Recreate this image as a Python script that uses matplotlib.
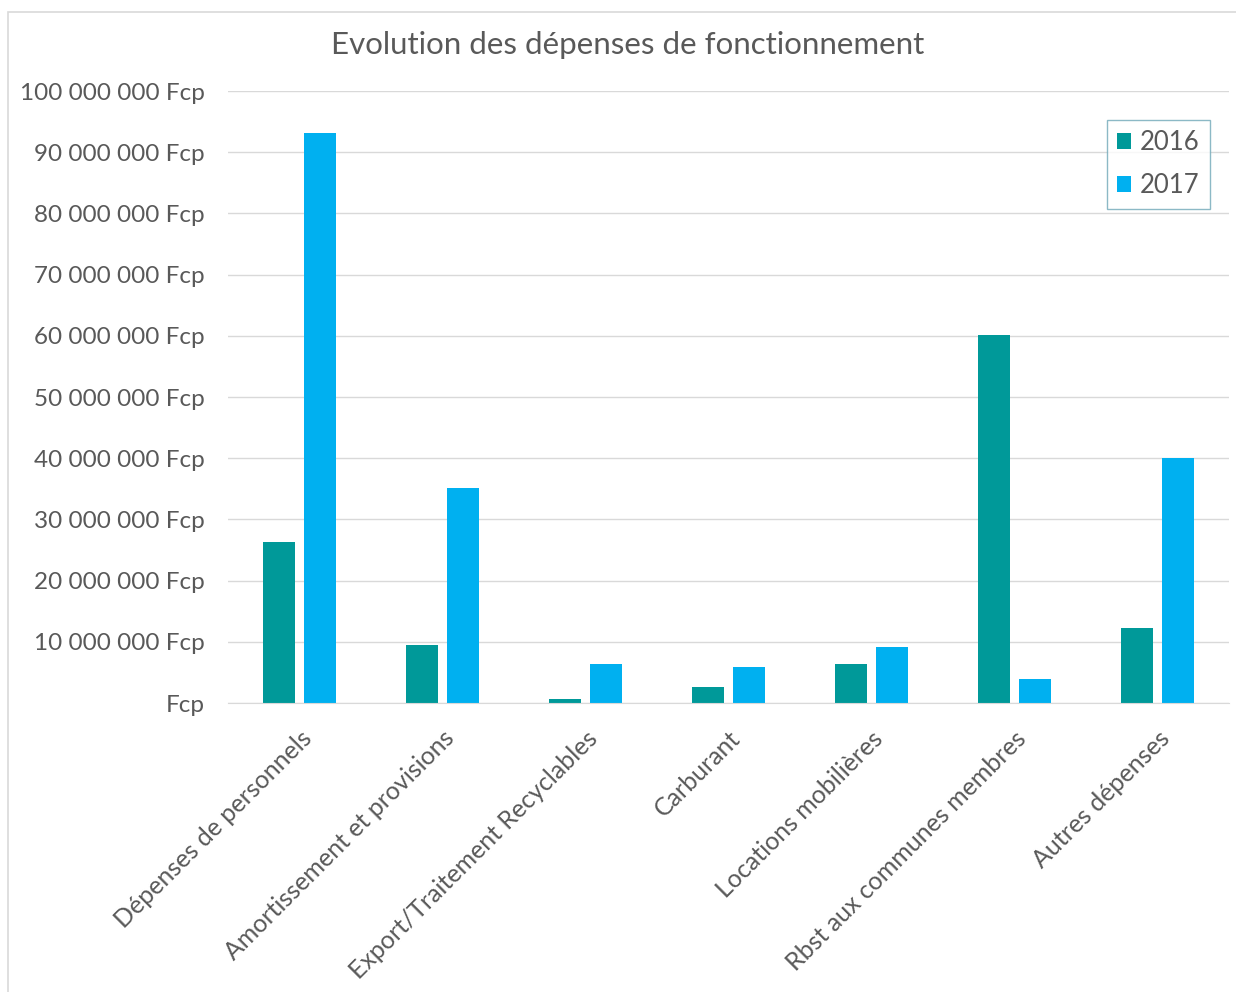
import numpy as np
import matplotlib.pyplot as plt
from matplotlib.patches import Rectangle

plt.rcParams['font.family'] = ['Lato', 'DejaVu Sans']

categories = ['Dépenses de personnels', 'Amortissement et provisions',
              'Export/Traitement Recyclables', 'Carburant',
              'Locations mobilières', 'Rbst aux communes membres',
              'Autres dépenses']
values_2016 = [26.3e6, 9.5e6, 0.65e6, 2.6e6, 6.3e6, 60.2e6, 12.2e6]
values_2017 = [93.2e6, 35.2e6, 6.4e6, 5.9e6, 9.2e6, 4.0e6, 40.0e6]
y_ticks = [0, 10e6, 20e6, 30e6, 40e6, 50e6, 60e6, 70e6, 80e6, 90e6, 100e6]
y_tick_labels = ['Fcp', '10 000 000 Fcp', '20 000 000 Fcp', '30 000 000 Fcp',
                 '40 000 000 Fcp', '50 000 000 Fcp', '60 000 000 Fcp',
                 '70 000 000 Fcp', '80 000 000 Fcp', '90 000 000 Fcp',
                 '100 000 000 Fcp']

text_color = '#595959'
grid_color = '#D9D9D9'

fig = plt.figure(figsize=(12.36, 9.92), dpi=100)
ax = fig.add_axes([228 / 1236, 1 - 703 / 992, 1001 / 1236, 612 / 992])

# chart border
fig.patches.append(Rectangle((8 / 1236, -0.01), 1.0, 1 - 12 / 992 + 0.01,
                             transform=fig.transFigure, fill=False,
                             edgecolor=grid_color, linewidth=1.2))

x = np.arange(len(categories))
w = 0.23
gap = 0.056
ax.bar(x - (w + gap) / 2, values_2016, w, color='#009999', label='2016')
ax.bar(x + (w + gap) / 2, values_2017, w, color='#00B0F0', label='2017')

ax.set_xlim(-0.5, len(categories) - 0.5)
ax.set_ylim(0, 100e6)
ax.set_yticks(y_ticks)
ax.set_yticklabels(y_tick_labels, fontsize=17.5, color=text_color)
ax.set_xticks(x)
ax.set_xticklabels(categories, rotation=45, ha='right', va='top',
                   rotation_mode='anchor', fontsize=18, color=text_color)
ax.tick_params(axis='both', length=0)
ax.tick_params(axis='y', pad=17)
ax.tick_params(axis='x', pad=17)

ax.grid(axis='y', color=grid_color, linewidth=1)
ax.set_axisbelow(True)
for s in ['top', 'right', 'left']:
    ax.spines[s].set_visible(False)
ax.spines['bottom'].set_color(grid_color)

fig.text(628 / 1236, 1 - 45 / 992, 'Evolution des dépenses de fonctionnement',
         ha='center', va='center', fontsize=22.5, color=text_color)

leg = ax.legend(loc='upper right', bbox_to_anchor=(982 / 1001, 1 - 29 / 612),
                fontsize=18.5, frameon=True, fancybox=False,
                handlelength=0.55, handleheight=0.55, handletextpad=0.35,
                labelspacing=0.7, borderpad=0.4, borderaxespad=0)
leg.get_frame().set_edgecolor('#6FA8B8')
leg.get_frame().set_linewidth(1)
for t in leg.get_texts():
    t.set_color(text_color)

plt.savefig('out.png', dpi=100)
